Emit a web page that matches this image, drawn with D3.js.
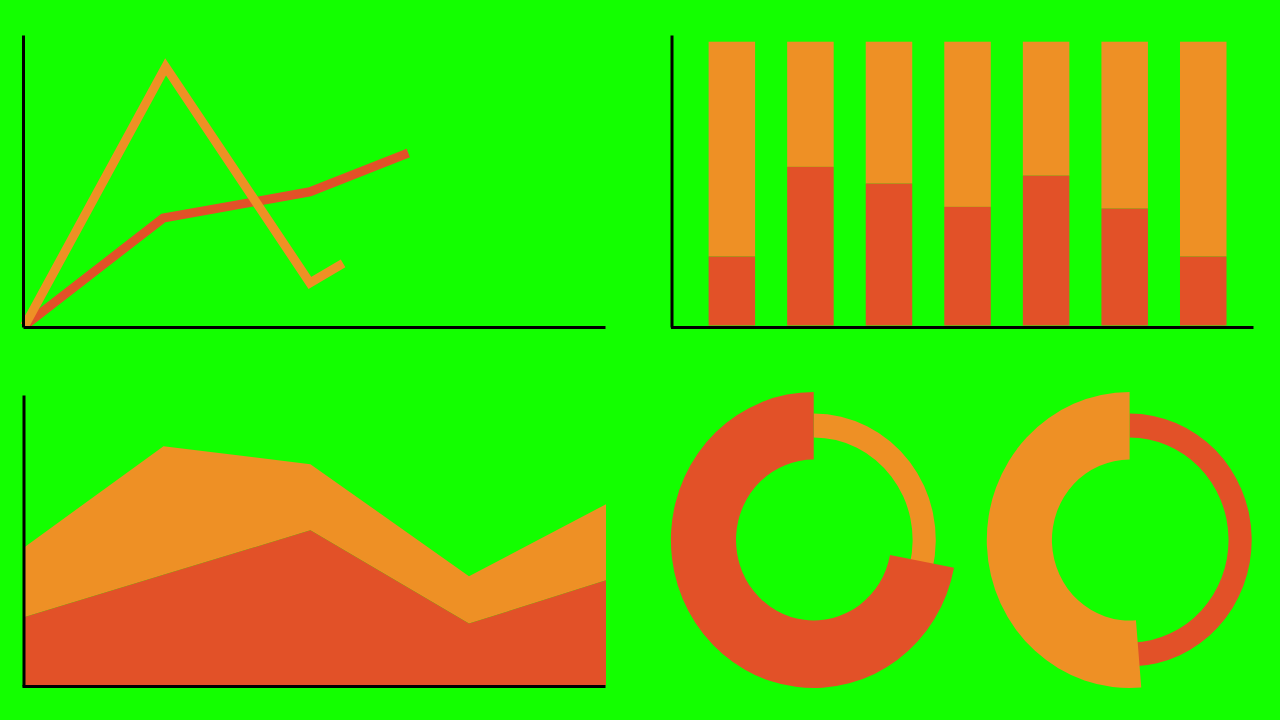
<!DOCTYPE html>
<html><head><meta charset="utf-8">
<script src="https://cdn.jsdelivr.net/npm/d3@7"></script>
<style>html,body{margin:0;padding:0;background:#13ff00;overflow:hidden}</style>
</head><body>
<script>
// ---------- data ----------
const lineOrangeX = [0.3, 24.5, 49.3, 55.0];
const lineOrangeY = [0.5, 89.1, 15.1, 21.8];
const lineRedX = [0.6, 24.1, 49.3, 66.2];
const lineRedY = [1.0, 37.3, 46.3, 59.6];

const barCategories = ["A", "B", "C", "D", "E", "F", "G"];
const barRed = [24.3, 55.9, 50.0, 41.8, 52.8, 41.2, 24.3];
const barOrange = barRed.map(v => 100 - v);

const areaX = [0.3, 24.1, 49.3, 76.5, 100];
const areaRed = [23.6, 38.1, 53.4, 21.3, 36.2];
const areaOrange = [24.1, 44.3, 22.8, 16.3, 26.2];

const donut1 = {thick: 72.0, thin: 28.0};   // red thick, orange thin
const donut2 = {thick: 51.3, thin: 48.7};   // orange thick, red thin

const ORANGE = "#ee9025", RED = "#e25128", BLACK = "#000";

const svg = d3.select("body").append("svg").attr("width", 1280).attr("height", 720);
svg.append("rect").attr("width", 1280).attr("height", 720).attr("fill", "#13ff00");

function styleAxis(g){
  g.select(".domain").attr("stroke", BLACK).attr("stroke-width", 3);
  g.selectAll(".tick").remove();
}

// ---------- line chart ----------
{
  const x = d3.scaleLinear().domain([0, 100]).range([23, 605]);
  const y = d3.scaleLinear().domain([0, 100]).range([327, 35]);
  const line = d3.line().x(d => x(d[0])).y(d => y(d[1]));
  const red = lineRedX.map((v, i) => [v, lineRedY[i]]);
  const orange = lineOrangeX.map((v, i) => [v, lineOrangeY[i]]);
  svg.append("path").attr("d", line(red)).attr("fill", "none").attr("stroke", RED)
     .attr("stroke-width", 9).attr("stroke-linejoin", "miter");
  svg.append("path").attr("d", line(orange)).attr("fill", "none").attr("stroke", ORANGE)
     .attr("stroke-width", 9).attr("stroke-linejoin", "miter").attr("stroke-miterlimit", 10);
  svg.append("g").attr("transform", "translate(0,327)")
     .call(d3.axisBottom(x).ticks(0).tickSizeOuter(0)).call(styleAxis);
  svg.append("g").attr("transform", "translate(23,0)")
     .call(d3.axisLeft(y).ticks(0).tickSizeOuter(0)).call(styleAxis);
}

// ---------- stacked bar chart ----------
{
  const x = d3.scaleBand().domain(barCategories).range([708.6, 1226.5]).paddingInner(0.408).paddingOuter(0);
  const y = d3.scaleLinear().domain([0, 100]).range([325.5, 41.7]);
  const g = svg.append("g");
  g.selectAll(".bo").data(barCategories).join("rect")
    .attr("x", d => x(d)).attr("width", x.bandwidth())
    .attr("y", (d, i) => y(barRed[i] + barOrange[i]))
    .attr("height", (d, i) => y(barRed[i]) - y(barRed[i] + barOrange[i]))
    .attr("fill", ORANGE);
  g.selectAll(".br").data(barCategories).join("rect")
    .attr("x", d => x(d)).attr("width", x.bandwidth())
    .attr("y", (d, i) => y(barRed[i]))
    .attr("height", (d, i) => y(0) - y(barRed[i]))
    .attr("fill", RED);
  const ax = d3.scaleLinear().domain([0, 1]).range([670.5, 1253]);
  const ay = d3.scaleLinear().domain([0, 1]).range([327, 35]);
  svg.append("g").attr("transform", "translate(0,327)")
     .call(d3.axisBottom(ax).ticks(0).tickSizeOuter(0)).call(styleAxis);
  svg.append("g").attr("transform", "translate(671.5,0)")
     .call(d3.axisLeft(ay).ticks(0).tickSizeOuter(0)).call(styleAxis);
}

// ---------- stacked area chart ----------
{
  const x = d3.scaleLinear().domain([0, 100]).range([23, 606]);
  const y = d3.scaleLinear().domain([0, 100]).range([685.5, 395]);
  const rows = areaX.map((v, i) => ({x: v, red: areaRed[i], orange: areaOrange[i]}));
  const series = d3.stack().keys(["red", "orange"])(rows);
  const area = d3.area().x(d => x(d.data.x)).y0(d => y(d[0])).y1(d => y(d[1]));
  svg.append("path").attr("d", area(series[1])).attr("fill", ORANGE);
  svg.append("path").attr("d", area(series[0])).attr("fill", RED);
  const ax = d3.scaleLinear().domain([0, 1]).range([22, 605]);
  const ay = d3.scaleLinear().domain([0, 1]).range([686, 395]);
  svg.append("g").attr("transform", "translate(0,686)")
     .call(d3.axisBottom(ax).ticks(0).tickSizeOuter(0)).call(styleAxis);
  svg.append("g").attr("transform", "translate(23.5,0)")
     .call(d3.axisLeft(ay).ticks(0).tickSizeOuter(0)).call(styleAxis);
}

// ---------- donuts ----------
{
  const ang = d3.scaleLinear().domain([0, 100]).range([0, 2 * Math.PI]);
  const thick = d3.arc().innerRadius(80.5).outerRadius(148);
  const thin = d3.arc().innerRadius(102.5).outerRadius(126.5);
  function donut(cx, d, thickColor, thinColor){
    const g = svg.append("g").attr("transform", `translate(${cx},540) scale(0.965,1)`);
    g.append("path").attr("d", thin({startAngle: 0, endAngle: ang(d.thin) + 0.05})).attr("fill", thinColor);
    g.append("path").attr("d", thick({startAngle: ang(d.thin), endAngle: ang(100)})).attr("fill", thickColor);
  }
  donut(813.7, donut1, RED, ORANGE);
  donut(1129.6, donut2, ORANGE, RED);
}
</script>
</body></html>
